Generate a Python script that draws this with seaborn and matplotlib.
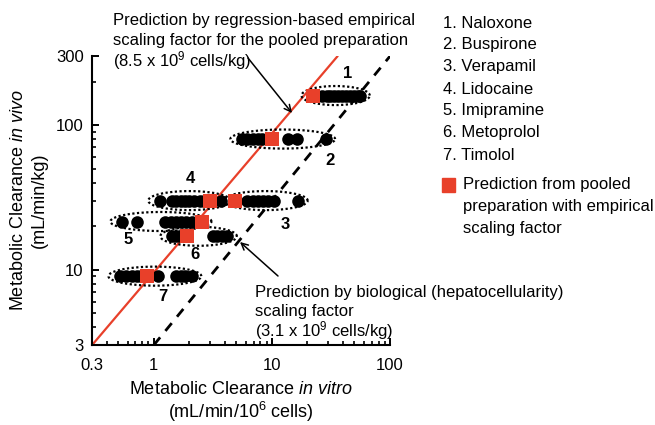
import numpy as np
import pandas as pd
import matplotlib
matplotlib.use("Agg")
import matplotlib.pyplot as plt
import seaborn as sns

# ---- data -------------------------------------------------------------
drugs = ["Naloxone", "Buspirone", "Verapamil", "Lidocaine",
         "Imipramine", "Metoprolol", "Timolol"]

# in vivo clearance (mL/min/kg), one value per drug
in_vivo = [160, 80, 30, 30, 21.5, 17, 9.0]

# in vitro clearance of individual donor preparations (mL/min/10^6 cells)
donor_naloxone = [26.6, 29.0, 31.1, 33.5, 36.4, 39.5, 42.6, 46.0, 49.8, 53.5, 56.0]
donor_buspirone = [5.6, 6.2, 6.9, 7.6, 8.3, 9.6, 13.6, 16.4, 28.5]
donor_verapamil = [6.2, 6.9, 7.6, 8.4, 9.3, 10.5, 16.7]
donor_lidocaine = [1.13, 1.43, 1.55, 1.7, 1.85, 2.0, 2.2, 2.45, 2.65, 3.7]
donor_imipramine = [0.54, 0.72, 1.25, 1.4, 1.55, 1.7, 1.87, 2.1]
donor_metoprolol = [1.43, 1.55, 1.67, 3.2, 3.45, 3.8, 4.2]
donor_timolol = [0.52, 0.58, 0.65, 0.72, 0.78, 1.08, 1.55, 1.7, 1.85, 2.1]
donors = [donor_naloxone, donor_buspirone, donor_verapamil, donor_lidocaine,
          donor_imipramine, donor_metoprolol, donor_timolol]

# in vitro clearance of the pooled preparation
pooled = [22.4, 10.0, 4.9, 3.0, 2.56, 1.92, 0.88]

# scaling lines (in vitro, in vivo end points)
empirical_x = [0.3, 36.0]
empirical_y = [3.0, 300.0]
biological_x = [1.0, 100.0]
biological_y = [3.0, 300.0]

x_ticks = [0.3, 1, 10, 100]
x_ticklabels = ["0.3", "1", "10", "100"]
y_ticks = [3, 10, 100, 300]
y_ticklabels = ["3", "10", "100", "300"]

# ---- tables -----------------------------------------------------------
donor_df = pd.DataFrame(
    [(d, x, y) for d, xs, y in zip(drugs, donors, in_vivo) for x in xs],
    columns=["drug", "in_vitro", "in_vivo"])
pooled_df = pd.DataFrame({"drug": drugs, "in_vitro": pooled, "in_vivo": in_vivo})

# ---- style ------------------------------------------------------------
sns.set_theme(style="ticks")
plt.rcParams["font.family"] = ["Liberation Sans", "DejaVu Sans"]
plt.rcParams["mathtext.fontset"] = "custom"
plt.rcParams["mathtext.rm"] = "Liberation Sans"
plt.rcParams["mathtext.it"] = "Liberation Sans:italic"
plt.rcParams["text.color"] = "black"
plt.rcParams["axes.labelcolor"] = "black"
RED = "#e8402a"

fig = plt.figure(figsize=(6.55, 4.25), dpi=100)
ax = fig.add_axes([0.1405, 0.188, 0.455, 0.68])
ax.set_xscale("log")
ax.set_yscale("log")
ax.set_xlim(0.3, 100)
ax.set_ylim(3, 300)

# scaling lines
ax.plot(empirical_x, empirical_y, color=RED, lw=1.6, zorder=2)
ax.plot(biological_x, biological_y, color="black", lw=2.0,
        dashes=(3.6, 3.0), zorder=2)

# dotted envelopes around each drug's donors
theta = np.linspace(0, 2 * np.pi, 200)
for xs, p, y in zip(donors, pooled, in_vivo):
    lo = np.log10(min(min(xs), p)) - 0.1
    hi = np.log10(max(max(xs), p)) + 0.08
    cx, a = (lo + hi) / 2, (hi - lo) / 2
    cy, b = np.log10(y), 0.066
    ax.plot(10 ** (cx + a * np.cos(theta)), 10 ** (cy + b * np.sin(theta)),
            color="black", lw=1.6, ls=(0, (1.0, 1.1)), zorder=3)

# donor values and pooled predictions
sns.scatterplot(data=donor_df, x="in_vitro", y="in_vivo", ax=ax,
                color="black", s=82, linewidth=0, legend=False, zorder=4)
sns.scatterplot(data=pooled_df, x="in_vitro", y="in_vivo", ax=ax,
                color=RED, marker="s", s=100, linewidth=0, legend=False,
                zorder=5)

# drug number labels
label_x = [44, 31, 13, 2.03, 0.61, 2.24, 1.2]
label_y = [229, 57, 20.5, 43, 16.1, 12.7, 6.5]
for i, (lx, ly) in enumerate(zip(label_x, label_y), start=1):
    ax.text(lx, ly, str(i), fontsize=12, fontweight="bold",
            ha="center", va="center")

# axes
ax.set_xticks(x_ticks)
ax.set_xticklabels(x_ticklabels)
ax.set_yticks(y_ticks)
ax.set_yticklabels(y_ticklabels)
ax.xaxis.set_minor_locator(matplotlib.ticker.LogLocator(subs=np.arange(2, 10)))
ax.yaxis.set_minor_locator(matplotlib.ticker.LogLocator(subs=np.arange(2, 10)))
ax.xaxis.set_minor_formatter(matplotlib.ticker.NullFormatter())
ax.yaxis.set_minor_formatter(matplotlib.ticker.NullFormatter())
ax.tick_params(which="major", direction="in", length=5, width=1.4,
               labelsize=12, colors="black")
ax.tick_params(axis="x", which="major", pad=9)
ax.tick_params(axis="y", which="major", pad=6)
ax.tick_params(which="minor", direction="in", length=3, width=1.2,
               colors="black")
for side in ["top", "right"]:
    ax.spines[side].set_visible(False)
for side in ["left", "bottom"]:
    ax.spines[side].set_linewidth(1.5)
    ax.spines[side].set_color("black")

ax.set_xlabel("Metabolic Clearance $\\mathit{in\\ vitro}$\n(mL/min/10$^{6}$ cells)",
              fontsize=13, labelpad=6, linespacing=1.12)
ax.set_ylabel("Metabolic Clearance $\\mathit{in\\ vivo}$\n(mL/min/kg)",
              fontsize=13, labelpad=6, linespacing=1.3)

# annotations for the two scaling lines
top_lines = ["Prediction by regression-based empirical",
             "scaling factor for the pooled preparation",
             "(8.5 x 10$^{9}$ cells/kg)"]
for i, line in enumerate(top_lines):
    fig.text(0.172, 1 - (20 + 20.5 * i) / 425, line,
             fontsize=12, ha="left", va="center")
ax.annotate("", xy=(292, 425 - 113), xycoords="figure pixels",
            xytext=(248, 425 - 58), textcoords="figure pixels",
            arrowprops=dict(arrowstyle="->", lw=1.1, color="black",
                            shrinkA=0, shrinkB=0))

bottom_lines = ["Prediction by biological (hepatocellularity)",
                "scaling factor",
                "(3.1 x 10$^{9}$ cells/kg)"]
for i, line in enumerate(bottom_lines):
    fig.text(0.389, 1 - (292 + 19.5 * i) / 425, line,
             fontsize=12, ha="left", va="center")
ax.annotate("", xy=(240, 425 - 242), xycoords="figure pixels",
            xytext=(278, 425 - 276), textcoords="figure pixels",
            arrowprops=dict(arrowstyle="->", lw=1.1, color="black",
                            shrinkA=0, shrinkB=0))

# drug key
for i, name in enumerate(drugs):
    fig.text(0.676, 1 - (23 + 22 * i) / 425, f"{i + 1}. {name}",
             fontsize=12, ha="left", va="center")
fig.patches.append(matplotlib.patches.Rectangle(
    (0.675, 0.548), 0.02, 0.033, transform=fig.transFigure,
    color=RED, figure=fig))
key_lines = ["Prediction from pooled", "preparation with empirical",
             "scaling factor"]
for i, line in enumerate(key_lines):
    fig.text(0.707, 1 - (185 + 21.5 * i) / 425, line,
             fontsize=12, ha="left", va="center")

fig.savefig("out.png", dpi=100)
